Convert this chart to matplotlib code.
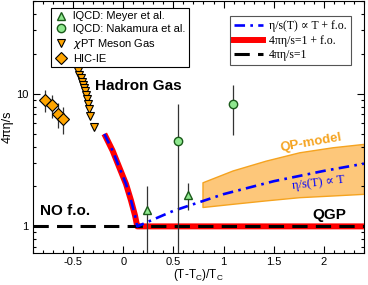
import numpy as np
import matplotlib.pyplot as plt
from matplotlib.ticker import NullFormatter, MultipleLocator

plt.rcParams['font.family'] = ['Liberation Sans', 'DejaVu Sans']

# lattice QCD, Meyer et al.
meyer_x = [0.236, 0.648]
meyer_y = [1.32, 1.73]
meyer_err = [0.70, 0.40]

# lattice QCD, Nakamura et al.
naka_x = [0.55, 1.097]
naka_y = [4.43, 8.3]
naka_err = [4.0, 3.4]

# chiral perturbation theory, meson gas
chpt_x = [-0.449, -0.439, -0.426, -0.416, -0.406, -0.396, -0.386,
          -0.376, -0.366, -0.356, -0.346, -0.332, -0.289]
chpt_y = [14.9, 13.9, 13.1, 12.3, 11.6, 11.0, 10.4, 9.8, 9.1, 8.4,
          7.7, 6.8, 5.65]

# heavy ion collisions, IE
hic_x = [-0.778, -0.715, -0.655, -0.598]
hic_y = [9.0, 8.2, 7.0, 6.45]
hic_err = [1.7, 1.6, 1.5, 1.5]

# hadronic branch with freeze-out (shared by both curves)
fo_x = [-0.189, -0.107, -0.040, 0.027, 0.077, 0.117, 0.137, 0.14]
fo_y = [4.98, 3.73, 2.79, 2.09, 1.57, 1.21, 1.02, 1.0]

# eta/s ~ T in the QGP
lin_x = [0.14, 0.5, 1.0, 1.5, 2.0, 2.4]
lin_y = [1.0, 1.31, 1.75, 2.19, 2.62, 2.97]

# QP-model band
qp_x = [0.79, 1.09, 1.42, 1.755, 2.087, 2.4]
qp_lo = [1.40, 1.48, 1.57, 1.66, 1.71, 1.76]
qp_hi = [2.15, 2.64, 3.13, 3.62, 3.95, 4.19]

fig = plt.figure(figsize=(3.68, 2.85), dpi=100)
ax = fig.add_axes([0.0897, 0.1123, 0.8993, 0.884])

ax.set_yscale('log')
ax.set_xlim(-0.9, 2.4)
ax.set_ylim(0.63, 50)

# QP band
ax.fill_between(qp_x, qp_lo, qp_hi, facecolor='#fdc77a', edgecolor='#f5a31f', lw=1, zorder=1)

# black reference line
ax.axhline(1, color='black', lw=2.2, dashes=(5, 2.7), zorder=4)

# red: 4pi eta/s = 1 + f.o.
ax.plot(fo_x + [2.4], fo_y + [1.0], color='red', lw=4.3, solid_capstyle='butt',
        solid_joinstyle='round', zorder=3)

# blue: eta/s ~ T + f.o.
ax.plot(fo_x + lin_x[1:], fo_y + lin_y[1:], color='blue', lw=1.9, dashes=(4, 2, 1, 2), zorder=5)

ax.errorbar(meyer_x, meyer_y, yerr=meyer_err, fmt='^', ms=6, mfc='#8ee88e', mec='#1a5a1a',
            ecolor='#333333', elinewidth=0.9, zorder=6)
ax.errorbar(naka_x, naka_y, yerr=naka_err, fmt='o', ms=6, mfc='#8ee88e', mec='#1a5a1a',
            ecolor='#333333', elinewidth=0.9, zorder=6)
ax.plot(chpt_x, chpt_y, 'v', ms=6, mfc='#ffa500', mec='black', mew=0.8, zorder=6)
ax.errorbar(hic_x, hic_y, yerr=hic_err, fmt='D', ms=6, mfc='#ffa500', mec='black', mew=0.8,
            ecolor='#333333', elinewidth=0.9, zorder=6)

# legends
h_meyer = plt.Line2D([], [], ls='none', marker='^', ms=6, mfc='#8ee88e', mec='#1a5a1a')
h_naka = plt.Line2D([], [], ls='none', marker='o', ms=6, mfc='#8ee88e', mec='#1a5a1a')
h_chpt = plt.Line2D([], [], ls='none', marker='v', ms=6, mfc='#ffa500', mec='black', mew=0.8)
h_hic = plt.Line2D([], [], ls='none', marker='D', ms=6, mfc='#ffa500', mec='black', mew=0.8)
leg1 = ax.legend([h_meyer, h_naka, h_chpt, h_hic],
                 ['lQCD: Meyer et al.', 'lQCD: Nakamura et al.', r'$\chi$PT Meson Gas', 'HIC-IE'],
                 loc='upper left', bbox_to_anchor=(0.055, 0.972), fontsize=8, frameon=True,
                 fancybox=False, edgecolor='black', framealpha=1, handletextpad=0.5,
                 labelspacing=0.25, borderpad=0.3, handlelength=1.2, borderaxespad=0)
leg1.get_frame().set_linewidth(0.8)
leg1.set_zorder(10)
ax.add_artist(leg1)

h_lin = plt.Line2D([], [], color='blue', lw=1.9, dashes=(4, 2, 1, 2))
h_red = plt.Line2D([], [], color='red', lw=4.3)
h_blk = plt.Line2D([], [], color='black', lw=2.2, dashes=(5, 2.7))
leg2 = ax.legend([h_lin, h_red, h_blk],
                 ['η/s(T) ∝ T + f.o.', '4πη/s=1 + f.o.', '4πη/s=1'],
                 loc='upper right', bbox_to_anchor=(0.961, 0.94),
                 prop={'family': ['Liberation Serif', 'DejaVu Serif'], 'size': 8.5},
                 frameon=True, fancybox=False, edgecolor='#555555', framealpha=1,
                 handlelength=2.5, handletextpad=0.5, labelspacing=0.2, borderpad=0.35,
                 borderaxespad=0)
leg2.get_frame().set_linewidth(0.8)
leg2.set_zorder(10)

# annotations
ax.text(0.155, 11.5, 'Hadron Gas', fontsize=11, fontweight='bold', ha='center', va='center')
ax.text(-0.578, 1.30, 'NO f.o.', fontsize=11, fontweight='bold', ha='center', va='center')
ax.text(2.05, 1.21, 'QGP', fontsize=11, fontweight='bold', ha='center', va='center')
ax.text(1.87, 4.25, 'QP-model', fontsize=9.5, fontweight='bold', color='#f5a31f',
        ha='center', va='center', rotation=10)
ax.text(1.95, 2.12, 'η/s(T) ∝ T', fontsize=9, color='blue', ha='center', va='center',
        rotation=7, family=['Liberation Serif', 'DejaVu Serif'])

ax.set_yticks([1, 10])
ax.set_yticklabels(['1', '10'])
ax.yaxis.set_minor_formatter(NullFormatter())
ax.set_xticks([-0.5, 0, 0.5, 1, 1.5, 2])
ax.set_xticklabels(['-0.5', '0', '0.5', '1', '1.5', '2'])
ax.xaxis.set_minor_locator(MultipleLocator(0.1))
ax.tick_params(which='both', direction='in', top=True, right=True, labelsize=8, pad=3)
ax.tick_params(which='major', length=5, width=0.8)
ax.tick_params(which='minor', length=2.5, width=0.8)

ax.set_xlabel(r'(T-T$_\mathregular{C}$)/T$_\mathregular{C}$', fontsize=8.5, labelpad=0)
ax.set_ylabel('4πη/s', fontsize=9, labelpad=2)

fig.savefig('out.png', dpi=100)
